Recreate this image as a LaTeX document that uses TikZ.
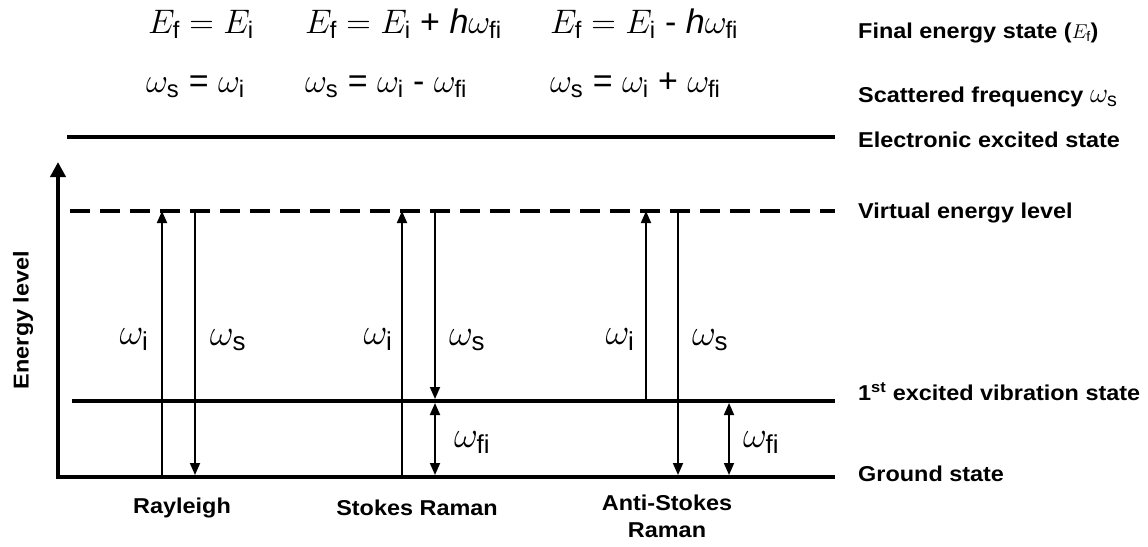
\RequirePackage{fix-cm}
\documentclass[tikz,border=0pt]{standalone}
\usepackage{amsmath}
\usepackage{fontspec}
\setmainfont{Liberation Sans}
\newfontfamily\lblfont[FakeStretch=1.09]{Liberation Sans}
\usetikzlibrary{arrows.meta}
\newcommand{\up}[1]{\text{\normalfont #1}}

\tikzset{
    level/.style={line width=4.5pt},
    trans/.style={line width=1.8pt, -{Triangle[length=12pt,width=10pt]}},
    both/.style={line width=1.8pt, {Triangle[length=12pt,width=10pt]}-{Triangle[length=12pt,width=10pt]}},
    statelbl/.style={font=\lblfont\bfseries\fontsize{21.5}{24}\selectfont, anchor=west, inner sep=0pt},
    caselbl/.style={font=\lblfont\bfseries\fontsize{21.5}{27}\selectfont, align=center, inner sep=0pt},
    eqn/.style={font=\fontsize{34}{36}\selectfont, anchor=base west, inner sep=0pt},
    weqn/.style={font=\fontsize{34}{36}\selectfont, anchor=base west, inner sep=0pt},
    freq/.style={font=\fontsize{37}{40}\selectfont, inner sep=0pt}
}

\begin{document}
\begin{tikzpicture}[x=1pt, y=-1pt, >=stealth]
    \useasboundingbox (0,0) rectangle (1148,546);

    % equations on top
    \node[eqn] (ef1) at (148,33) {$E_{\up{f}} = E_{\up{i}}$};
    \node[eqn] (ef2) at (305,33) {$E_{\up{f}} = E_{\up{i}}$ + \textit{h}$\omega_{\up{fi}}$};
    \node[eqn] (ef3) at (550,33) {$E_{\up{f}} = E_{\up{i}}$ - \textit{h}$\omega_{\up{fi}}$};
    \node[weqn] (ws1) at (146,92) {$\omega_{\up{s}}$ = $\omega_{\up{i}}$};
    \node[weqn] (ws2) at (305,92) {$\omega_{\up{s}}$ = $\omega_{\up{i}}$ - $\omega_{\up{fi}}$};
    \node[weqn] (ws3) at (550,92) {$\omega_{\up{s}}$ = $\omega_{\up{i}}$ + $\omega_{\up{fi}}$};

    % levels
    \coordinate (e0) at (67,137);  \coordinate (e1) at (835,137);
    \coordinate (v0) at (70,211);  \coordinate (v1) at (835,211);
    \coordinate (x0) at (72,401);  \coordinate (x1) at (835,401);
    \coordinate (top) at (58,162); \coordinate (o) at (58,477);
    \coordinate (g1) at (835,477);
    \draw[level] (e0) -- (e1);
    \draw[level, dash pattern=on 20pt off 10pt] (v0) -- (v1);
    \draw[level] (x0) -- (x1);
    \draw[level, line join=miter, {Triangle[length=15pt,width=15pt]}-] (top) -- (o) -- (g1);

    % state labels
    \node[statelbl] (lfin) at (858,33) {Final energy state ({\normalfont\fontsize{20}{20}\selectfont$E_{\up{f}}$})};
    \node[statelbl] (lsca) at (858,97) {Scattered frequency {\normalfont\fontsize{28}{28}\selectfont$\omega_{\up{s}}$}};
    \node[statelbl] (lele) at (858,140) {Electronic excited state};
    \node[statelbl] (lvir) at (858,213) {Virtual energy level};
    \node[statelbl] (lvib) at (858,392) {1\textsuperscript{st} excited vibration state};
    \node[statelbl] (lgro) at (858,474) {Ground state};
    \node[caselbl, rotate=90] (axis) at (23,320) {Energy level};

    % Rayleigh
    \coordinate (r1g) at (162,477); \coordinate (r1v) at (162,211);
    \coordinate (r2v) at (195,211); \coordinate (r2g) at (195,475);
    \draw[trans] (r1g) -- (r1v);
    \draw[trans] (r2v) -- (r2g);
    \node[freq] (rwi) at (134,340) {$\omega_{\up{i}}$};
    \node[freq] (rws) at (228,340) {$\omega_{\up{s}}$};

    % Stokes Raman
    \coordinate (s1g) at (402,477); \coordinate (s1v) at (402,211);
    \coordinate (s2v) at (435,211); \coordinate (s2x) at (435,399);
    \coordinate (s3x) at (435,403); \coordinate (s3g) at (435,475);
    \draw[trans] (s1g) -- (s1v);
    \draw[trans] (s2v) -- (s2x);
    \draw[both] (s3x) -- (s3g);
    \node[freq] (swi) at (378,340) {$\omega_{\up{i}}$};
    \node[freq] (sws) at (467,340) {$\omega_{\up{s}}$};
    \node[freq] (swf) at (472,443) {$\omega_{\up{fi}}$};

    % Anti-Stokes Raman
    \coordinate (a1x) at (646,401); \coordinate (a1v) at (646,211);
    \coordinate (a2v) at (678,211); \coordinate (a2g) at (678,475);
    \coordinate (a3x) at (729,403); \coordinate (a3g) at (729,475);
    \draw[trans] (a1x) -- (a1v);
    \draw[trans] (a2v) -- (a2g);
    \draw[both] (a3x) -- (a3g);
    \node[freq] (awi) at (620,340) {$\omega_{\up{i}}$};
    \node[freq] (aws) at (710,340) {$\omega_{\up{s}}$};
    \node[freq] (awf) at (761,443) {$\omega_{\up{fi}}$};

    % case names
    \node[caselbl] (ray) at (182,508) {Rayleigh};
    \node[caselbl] (sto) at (417,508) {Stokes Raman};
    \node[caselbl, anchor=north] (ant) at (667,495) {Anti-Stokes\\Raman};
\end{tikzpicture}
\end{document}
